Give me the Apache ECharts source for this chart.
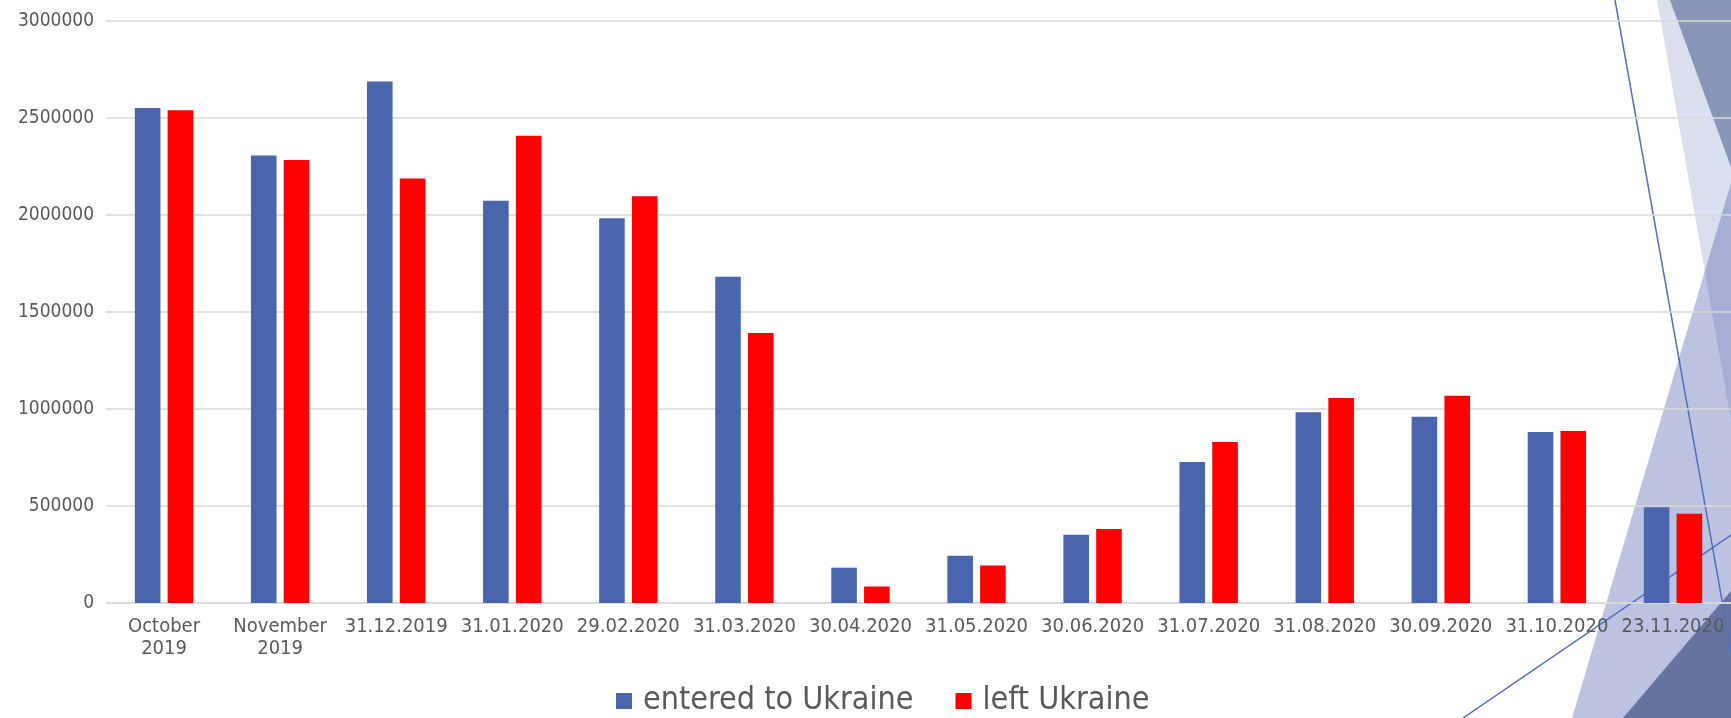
<!DOCTYPE html>
<html>
<head>
<meta charset="utf-8">
<script src="https://cdn.jsdelivr.net/npm/echarts@6/dist/echarts.min.js"></script>
<style>
  html, body { margin: 0; padding: 0; background: #fff; }
  #chart { width: 1731px; height: 718px; }
</style>
</head>
<body>
<div id="chart"></div>
<script>
// категории и значения
const categories = ['October\n2019', 'November\n2019', '31.12.2019', '31.01.2020', '29.02.2020',
  '31.03.2020', '30.04.2020', '31.05.2020', '30.06.2020', '31.07.2020', '31.08.2020',
  '30.09.2020', '31.10.2020', '23.11.2020'];
const entered = [2551000, 2307000, 2688000, 2074000, 1983000, 1682000, 182000, 244000,
  352000, 727000, 983000, 960000, 881000, 494000];
const left = [2540000, 2284000, 2188000, 2409000, 2097000, 1392000, 85000, 193000,
  381000, 830000, 1057000, 1068000, 886000, 460000];
const seriesNames = ['entered to Ukraine', 'left Ukraine'];
const yMax = 3000000;
const yStep = 500000;

const font = 'DejaVu Sans Condensed';
const textColor = '#595959';

// фон слайда (декор справа)
const deco = [
  {type: 'polygon', z: -10, shape: {points: [[1657, 0], [1731, 0], [1731, 420]]}, style: {fill: '#DADFEE'}},
  {type: 'polygon', z: -9, shape: {points: [[1731, 183], [1572, 718], [1731, 718]]}, style: {fill: 'rgba(68,90,170,0.36)'}},
  {type: 'polygon', z: -8, shape: {points: [[1670, 0], [1731, 0], [1731, 167]]}, style: {fill: '#8896B8'}},
  {type: 'polygon', z: -7, shape: {points: [[1731, 591], [1623, 718], [1731, 718]]}, style: {fill: '#6674A0'}},
  {type: 'line', z: -6, shape: {x1: 1615, y1: 0, x2: 1743, y2: 718}, style: {stroke: '#4F6EBC', lineWidth: 1.5}},
  {type: 'line', z: -6, shape: {x1: 1463, y1: 718, x2: 1731, y2: 535}, style: {stroke: '#4F6EBC', lineWidth: 1.5}}
];

const chart = echarts.init(document.getElementById('chart'));
chart.setOption({
  animation: false,
  backgroundColor: '#fff',
  graphic: {elements: deco},
  grid: {left: 106, width: 1626, top: 21, bottom: 115, containLabel: false},
  legend: {
    data: seriesNames,
    left: 616,
    top: 685,
    padding: 0,
    icon: 'rect',
    itemWidth: 16,
    itemHeight: 16,
    itemGap: 42,
    textStyle: {fontFamily: font, fontSize: 32, color: textColor, padding: [0, 0, 0, 6]}
  },
  xAxis: {
    type: 'category',
    data: categories,
    axisTick: {show: false},
    axisLine: {lineStyle: {color: '#D9D9D9', width: 1.5}},
    axisLabel: {
      interval: 0,
      margin: 13,
      fontFamily: font,
      fontSize: 20,
      lineHeight: 22,
      color: textColor
    }
  },
  yAxis: {
    type: 'value',
    min: 0,
    max: yMax,
    interval: yStep,
    axisLine: {show: false},
    axisTick: {show: false},
    splitLine: {lineStyle: {color: '#D9D9D9', width: 1.5}},
    axisLabel: {
      margin: 12,
      fontFamily: font,
      fontSize: 19,
      color: textColor,
      formatter: v => String(v)
    }
  },
  series: [
    {
      name: seriesNames[0],
      type: 'bar',
      z: 5,
      barWidth: 25.6,
      barGap: '28%',
      itemStyle: {color: '#4966AC'},
      data: entered
    },
    {
      name: seriesNames[1],
      type: 'bar',
      z: 5,
      barWidth: 25.6,
      barGap: '28%',
      itemStyle: {color: '#FF0000'},
      data: left
    }
  ]
});
</script>
</body>
</html>
